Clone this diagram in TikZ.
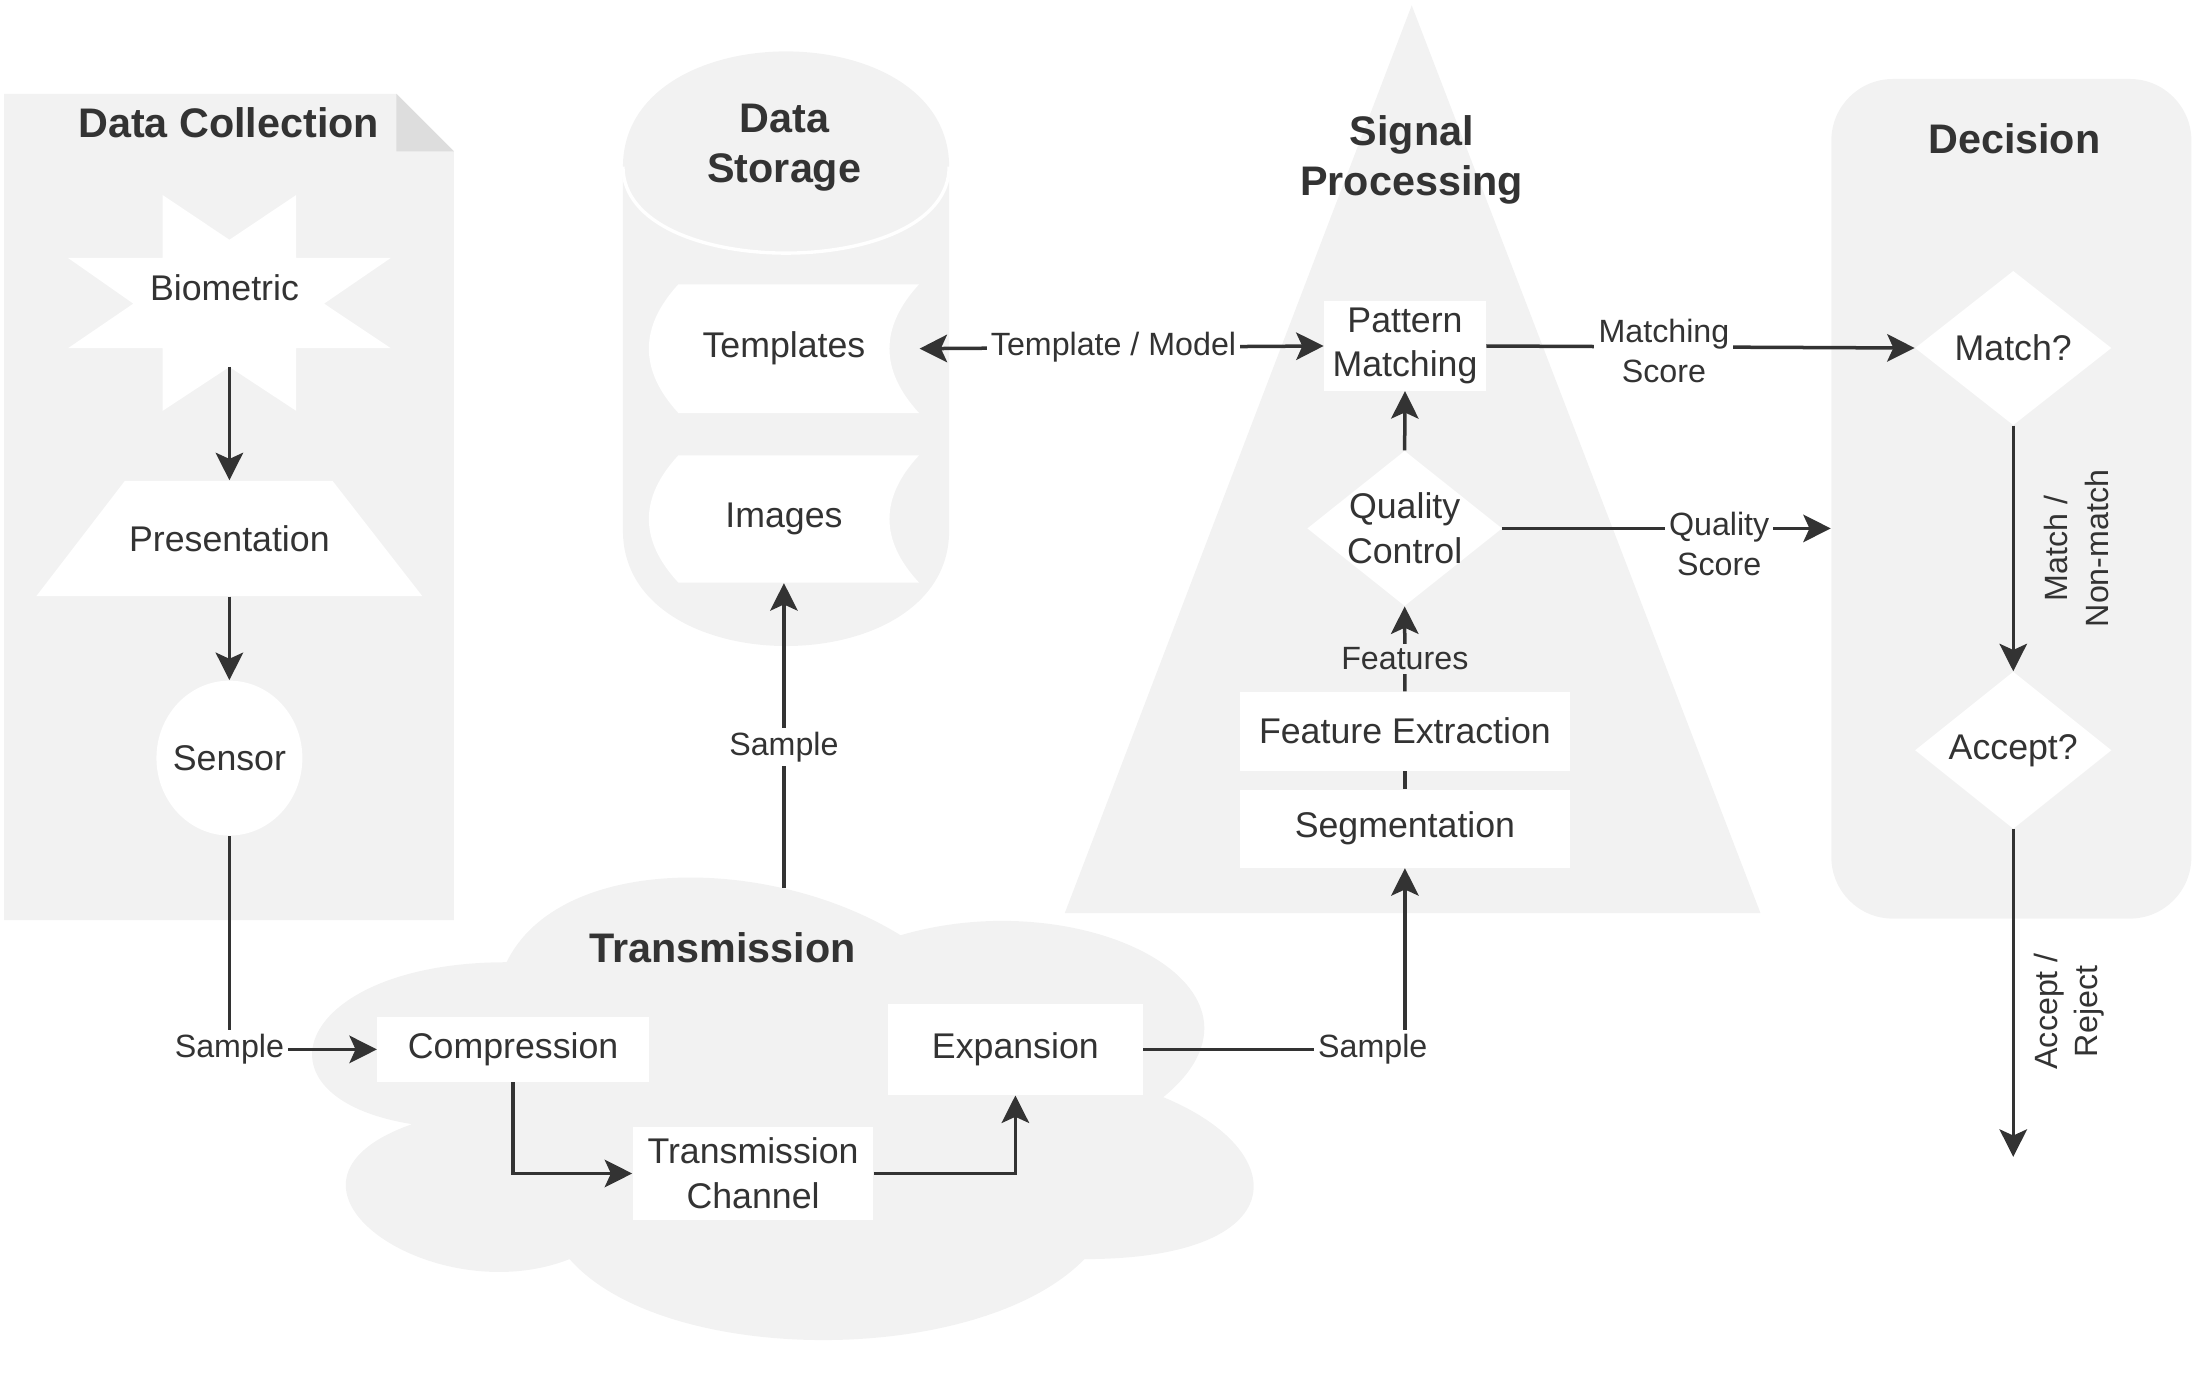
\documentclass[tikz,border=0pt]{standalone}
\usepackage{fontspec}
\setmainfont{Liberation Sans}
\usetikzlibrary{arrows.meta}
\definecolor{panel}{HTML}{F2F2F2}
\definecolor{fold}{HTML}{DDDDDD}
\definecolor{ink}{HTML}{333333}
\tikzset{
  every node/.style={text=ink, font=\fontsize{12.75}{16}\selectfont},
  box/.style={rectangle, fill=white, inner sep=0pt, align=center},
  anchorbox/.style={rectangle, inner sep=0pt, align=center},
  lbl/.style={font=\fontsize{11.5}{14.5}\selectfont, inner sep=1.5pt, align=center},
  wlbl/.style={lbl, fill=white},
  glbl/.style={lbl, fill=panel},
  ttl/.style={font=\fontsize{14.75}{18}\selectfont\bfseries, align=center, inner sep=0pt},
  conn/.style={draw=ink, line width=1.25pt},
  arr/.style={conn, -{Stealth[length=9.8pt,width=9.8pt,inset=2.2pt]}},
  biarr/.style={conn, {Stealth[length=9.8pt,width=9.8pt,inset=2.2pt]}-{Stealth[length=9.8pt,width=9.8pt,inset=2.2pt]}},
}
\begin{document}
\begin{tikzpicture}[x=0.5pt,y=-0.5pt]
\useasboundingbox (0,0) rectangle (1568,984.6);
% ---------- containers ----------
% Data Collection (note shape)
\fill[panel] (3,67) -- (283,67) -- (324,108) -- (324,657) -- (3,657) -- cycle;
\fill[fold] (283,67) -- (283,108) -- (324,108) -- cycle;
% Data Storage (cylinder)
\fill[panel] (444.8,119) .. controls (444.8,9.27) and (677.7,9.27) .. (677.7,119)
  -- (677.7,379) .. controls (677.7,488.7) and (444.8,488.7) .. (444.8,379) -- cycle;
\draw[white, line width=1.2pt] (444.8,119) .. controls (444.8,201.3) and (677.7,201.3) .. (677.7,119);
% Signal Processing (triangle)
\fill[panel] (1008,3.8) -- (1257,651.9) -- (760.3,651.9) -- cycle;
% Decision (rounded rectangle)
\node[fill=panel, rounded corners=22pt, minimum width=128.55pt, minimum height=299.75pt, inner sep=0pt] (dec) at (1436.15,356.15) {};
% Transmission (cloud)
\fill[panel] (361.68,687.05) .. controls (211.62,687.05) and (174.1,783.4) .. (294.15,802.67)
  .. controls (174.1,845.06) and (309.15,937.56) .. (406.69,899.02)
  .. controls (474.22,976.1) and (699.31,976.1) .. (774.34,899.02)
  .. controls (924.4,899.02) and (924.4,821.94) .. (830.61,783.4)
  .. controls (924.4,706.32) and (774.34,629.24) .. (643.04,667.78)
  .. controls (549.25,609.97) and (399.19,609.97) .. (361.68,687.05) -- cycle;
% ---------- titles ----------
\node[ttl] (tdc) at (163.3,87.7) {Data Collection};
\node[ttl] (tds) at (560,105.5) {Data\\Storage};
\node[ttl] (tsp) at (1008,114) {Signal\\Processing};
\node[ttl] (tdec) at (1438.3,99) {Decision};
\node[ttl] (ttr) at (516,677) {Transmission};
% ---------- shapes ----------
% Biometric star
\fill[white] (116.2,139.3) -- (163.8,171.2) -- (211.4,139.3) -- (211.4,184.2) -- (279,184.2)
  -- (231.4,216.8) -- (279,248.6) -- (211.4,248.6) -- (211.4,293.3) -- (163.8,262)
  -- (116.2,293.3) -- (116.2,248.6) -- (48.6,248.6) -- (95.2,216.8) -- (48.6,184.2)
  -- (116.2,184.2) -- cycle;
\node[anchorbox] (bio) at (160.3,205.6) {Biometric};
\coordinate (bioS) at (163.8,262);
% Presentation trapezoid
\fill[white] (89.2,343.3) -- (237.4,343.3) -- (301.5,425.6) -- (26,425.6) -- cycle;
\node[anchorbox, minimum width=137.75pt, minimum height=41.15pt] (pres) at (163.8,384.45) {Presentation};
% Sensor ellipse
\fill[white] (163.8,541.3) ellipse [x radius=26.05pt, y radius=27.65pt];
\node[anchorbox, minimum width=52.1pt, minimum height=55.3pt] (sensor) at (163.8,541.3) {Sensor};
% Storage shapes
\fill[white] (484.4,203) -- (656.2,203) .. controls (628.07,233.63) and (628.07,264.27) .. (656.2,294.9)
  -- (484.4,294.9) .. controls (456.27,264.27) and (456.27,233.63) .. (484.4,203) -- cycle;
\node[anchorbox, minimum width=96.45pt, minimum height=45.95pt] (tmpl) at (559.75,248.95) {Templates};
\fill[white] (484.4,325.1) -- (656.2,325.1) .. controls (628.07,355.4) and (628.07,385.7) .. (656.2,416)
  -- (484.4,416) .. controls (456.27,385.7) and (456.27,355.4) .. (484.4,325.1) -- cycle;
\node[anchorbox, minimum width=96.45pt, minimum height=45.45pt] (img) at (559.75,370.55) {Images};
% Transmission boxes
\node[box, minimum width=96.9pt, minimum height=23.2pt] (comp) at (366.4,749.3) {Compression};
\node[box, minimum width=85.9pt, minimum height=32.9pt] (tc) at (537.7,837.9) {Transmission\\Channel};
\node[box, minimum width=90.8pt, minimum height=32.45pt] (exp) at (725,749.35) {Expansion};
% Signal processing
\node[box, minimum width=117.65pt, minimum height=27.85pt] (seg) at (1003.15,591.65) {Segmentation};
\node[box, minimum width=117.65pt, minimum height=28.1pt] (fe) at (1003.15,522.1) {Feature Extraction};
\fill[white] (933.5,377.3) -- (1002.95,322) -- (1072.4,377.3) -- (1002.95,432.6) -- cycle;
\node[anchorbox, minimum width=69.45pt, minimum height=55.3pt] (qc) at (1002.95,377.3) {Quality\\Control};
\node[box, minimum width=57.7pt, minimum height=31.85pt] (pm) at (1003.2,247.05) {Pattern\\Matching};
% Decision diamonds
\fill[white] (1367.5,248.5) -- (1437.5,193.5) -- (1507.5,248.5) -- (1437.5,303.5) -- cycle;
\node[anchorbox, minimum width=70pt, minimum height=55pt] (match) at (1437.5,248.5) {Match?};
\fill[white] (1367.5,535.7) -- (1437.5,479.7) -- (1507.5,535.7) -- (1437.5,591.7) -- cycle;
\node[anchorbox, minimum width=70pt, minimum height=56pt] (accept) at (1437.5,535.7) {Accept?};
\coordinate (cloudtop) at (559.75,634);
\coordinate (endpt) at (1437.5,826);
% ---------- connectors ----------
\draw[arr] (bioS) -- (pres.north);
\draw[arr] (pres.south) -- (sensor.north);
\draw[arr] (sensor.south) |- node[wlbl, pos=0.5] {Sample} (comp.west);
\draw[arr] (comp.south) |- (tc.west);
\draw[arr] (tc.east) -| (exp.south);
\draw[arr] (exp.east) -| node[wlbl, pos=0.5, xshift=-11.5pt] {Sample} (seg.south);
\draw[arr] (cloudtop) -- node[wlbl, pos=0.462] {Sample} (img.south);
\draw[conn] (seg.north) -- (fe.south);
\draw[arr] (fe.north) -- node[glbl, pos=0.38] {Features} (qc.south);
\draw[arr] (qc.north) -- (pm.south);
\draw[biarr] (tmpl.east) -- node[wlbl, pos=0.48] {Template / Model} (pm.west);
\draw[arr] (pm.east) -- node[wlbl, pos=0.4145, yshift=-1.5pt] {Matching\\Score} (match.west);
\draw[arr] (qc.east) -- node[wlbl, pos=0.66, yshift=-5.5pt] {Quality\\Score} (qc.east -| dec.west);
\draw[arr] (match.south) -- node[lbl, pos=0.5, xshift=22.5pt, rotate=90] {Match /\\Non-match} (accept.north);
\draw[arr] (accept.south) -- node[lbl, pos=0.556, xshift=20pt, rotate=90] {Accept /\\Reject} (endpt);
\end{tikzpicture}
\end{document}
